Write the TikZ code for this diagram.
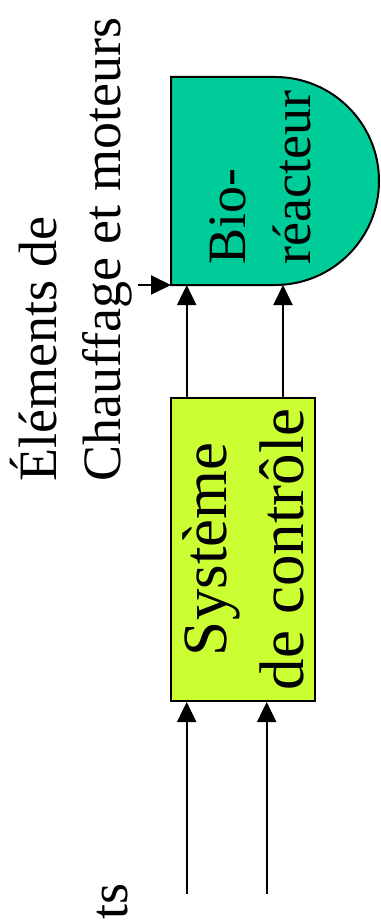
\documentclass[tikz,border=0pt]{standalone}
\usepackage{fontspec}
\setmainfont{Liberation Serif}
\usetikzlibrary{arrows.meta,calc}
\definecolor{bioc}{RGB}{0,204,153}
\definecolor{sysc}{RGB}{204,255,51}
\begin{document}
\begin{tikzpicture}[x=1pt,y=-1pt,
  conn/.style={line width=2pt,-{Triangle[length=20pt,width=19pt]}},
  lbl/.style={rotate=90,align=left,inner sep=0pt,font=\fontsize{54}{65}\selectfont},
  boxlbl/.style={rotate=90,align=center,inner sep=0pt,font=\fontsize{63}{77}\selectfont}]
\useasboundingbox (0,0) rectangle (380,920);
% Bioreactor
\draw[fill=bioc,line width=2pt] (171,77) -- (275,77) arc (-90:90:104) -- (171,285) -- cycle;
\node[lbl,anchor=base west] (biotxt) at (310,265) {Bio-\\réacteur};
\coordinate (bioL) at (171,285);
\coordinate (bio1) at (186.7,285);
\coordinate (bio2) at (283,285);
% Control system
\node[draw,fill=sysc,line width=2pt,minimum width=144pt,minimum height=303.5pt,inner sep=0pt] (sys) at (243,549.25) {};
\node[boxlbl] (systxt) at (sys.center) {Système\\de contrôle};
% Heating label
\node[lbl,anchor=base west,font=\fontsize{54}{64}\selectfont] (chauf) at (120,482) {Éléments de\\Chauffage et moteurs};
\coordinate (hin) at (138,285);
% cut label
\node[lbl,anchor=base east] (ts) at (127,883) {ts};
% inputs
\coordinate (in1) at (186.7,894);
\coordinate (in2) at (266.7,894);
% connectors
\draw[conn] (hin) -- (bioL);
\draw[conn] (sys.north -| bio1) -- (bio1);
\draw[conn] (sys.north -| bio2) -- (bio2);
\draw[conn] (in1) -- (in1 |- sys.south);
\draw[conn] (in2) -- (in2 |- sys.south);
\end{tikzpicture}
\end{document}
